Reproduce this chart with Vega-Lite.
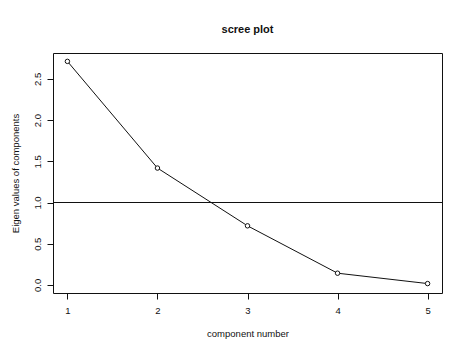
{
  "$schema": "https://vega.github.io/schema/vega-lite/v6.json",
  "autosize": {"type": "none"},
  "width": 389,
  "height": 240,
  "padding": {"left": 53, "top": 53, "right": 19, "bottom": 55},
  "background": "white",
  "config": {
    "font": "Liberation Sans",
    "view": {"stroke": "#111", "strokeWidth": 1, "fill": "white"},
    "axis": {
      "domain": false,
      "grid": false,
      "ticks": true,
      "tickColor": "#111",
      "tickSize": 6,
      "tickWidth": 1,
      "labelColor": "#111",
      "labelFont": "Liberation Sans",
      "labelFontSize": 9.5,
      "titleColor": "#111",
      "titleFont": "Liberation Sans",
      "titleFontSize": 9.5,
      "titleFontWeight": "normal"
    }
  },
  "title": {
    "text": "scree plot",
    "font": "Liberation Sans",
    "fontSize": 11,
    "fontWeight": "bold",
    "color": "#111",
    "anchor": "middle",
    "baseline": "alphabetic",
    "offset": 9
  },
  "data": {
    "values": [
      {"component": 1, "eigen": 2.713},
      {"component": 2, "eigen": 1.418},
      {"component": 3, "eigen": 0.717},
      {"component": 4, "eigen": 0.142},
      {"component": 5, "eigen": 0.016}
    ]
  },
  "encoding": {
    "x": {
      "field": "component",
      "type": "quantitative",
      "title": "component number",
      "scale": {"domain": [0.84, 5.16], "nice": false, "zero": false},
      "axis": {"values": [1, 2, 3, 4, 5], "format": "d", "labelPadding": 6, "titlePadding": 14}
    },
    "y": {
      "field": "eigen",
      "type": "quantitative",
      "title": "Eigen values of components",
      "scale": {"domain": [-0.0984, 2.8146], "nice": false, "zero": false},
      "axis": {
        "values": [0, 0.5, 1, 1.5, 2, 2.5],
        "format": ".1f",
        "labelAngle": -90,
        "labelAlign": "center",
        "labelBaseline": "bottom",
        "labelPadding": 5,
        "titlePadding": 12
      }
    }
  },
  "layer": [
    {
      "mark": {"type": "rule", "color": "#111", "strokeWidth": 1},
      "encoding": {"x": null, "y": {"datum": 1, "type": "quantitative"}}
    },
    {
      "mark": {"type": "line", "color": "#111", "strokeWidth": 1}
    },
    {
      "mark": {"type": "point", "shape": "circle", "filled": false, "fill": "white", "fillOpacity": 1, "stroke": "#111", "strokeWidth": 1, "size": 20, "opacity": 1}
    }
  ]
}
